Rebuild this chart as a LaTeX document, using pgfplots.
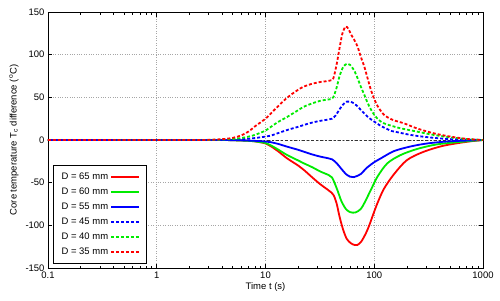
\documentclass[border=0pt]{standalone}
\usepackage{fontspec}
\setmainfont{Liberation Sans}
\usepackage{pgfplots}
\pgfplotsset{compat=1.18}
\definecolor{gpred}{RGB}{255,0,0}
\definecolor{gpgreen}{RGB}{0,235,0}
\definecolor{gpblue}{RGB}{0,0,255}
\begin{document}
\begin{tikzpicture}
\begin{axis}[
  scale only axis, width=435bp, height=256bp,
  xmode=log, xmin=0.1, xmax=1000, ymin=-150, ymax=150,
  xtick={0.1,1,10,100,1000}, xticklabels={0.1,1,10,100,1000},
  ytick={-150,-100,-50,0,50,100,150},
  yticklabels={-150,-100,-50,0,50,100,150},
  font=\fontsize{9.5}{11}\selectfont,
  /pgf/number format/assume math mode=true,
  axis line style={black, line width=0.8pt},
  major tick length=4.5bp, minor tick length=2.5bp,
  every tick/.style={black, line width=0.6pt},
  xmajorgrids, ymajorgrids,
  major grid style={gray!70, dotted, line width=0.6pt},
  xlabel={Time t (s)},
  ylabel={Core temperature T\textsubscript{c} difference (\textsuperscript{o}C)},
  xlabel style={yshift=2bp},
  legend style={at={(rel axis cs:0.012,0.016)}, anchor=south west,
    draw=black, line width=0.8pt, legend cell align=right,
    font=\fontsize{9.5}{11}\selectfont, row sep=0pt,
    inner xsep=6bp, inner ysep=4bp,
    nodes={text height=7bp, text depth=1.5bp, minimum height=15bp, inner ysep=0pt}},
  legend plot pos=right,
  legend image code/.code={\draw[#1, line width=1.8bp] (0bp,0bp) -- (28bp,0bp);},
  every axis plot/.append style={line width=1.8bp, smooth, tension=0.5},
]
\addplot[black!80, dash dot, line width=0.6pt, forget plot, sharp plot] coordinates {(0.1,0) (1000,0)};
% D = 65 mm
\addplot[gpred] coordinates {
(0.1,0)(2,0)(4,0)(5,-0.3)(6,-0.6)(7,-1)(8,-1.6)(10,-4)(11.1,-7)(13,-13)(15.8,-21.5)(20,-30)(22.5,-35)(27,-44)(32,-52)(38,-59)(42,-64)(45,-74)(48,-90)(52,-106)(56,-116)(61,-121)(66,-123)(70,-123)(76,-119)(84,-109)(90,-100)(96,-90)(107,-74)(123,-57)(152,-40)(200,-23.5)(286,-13.7)(437,-6.6)(720,-2)(1000,0)};
\addlegendentry{D = 65 mm}
% D = 60 mm
\addplot[gpgreen] coordinates {
(0.1,0)(2,0)(4,0)(5,-0.3)(6,-0.6)(7,-1)(8,-1.6)(10,-3.5)(11.1,-6)(13,-11)(15.8,-17.6)(20,-24)(22.5,-27.3)(27,-32)(32,-37)(38,-41)(41,-44)(45.6,-58)(50,-72)(55,-81)(60,-84.5)(67,-85)(75,-81)(81,-74)(93,-58.6)(107,-43)(132,-27.3)(175,-17.6)(248,-10.5)(383,-5)(720,-1.5)(1000,0)};
\addlegendentry{D = 60 mm}
% D = 55 mm
\addplot[gpblue] coordinates {
(0.1,0)(2,0)(4,0)(5,-0.2)(6,-0.4)(7,-0.7)(8,-1)(10,-1.8)(11.1,-2.5)(13,-4.5)(15.8,-7.8)(20,-11.5)(22.5,-13.7)(27,-17)(32,-19.5)(38,-21.5)(41,-22.7)(45,-27)(50,-34)(55,-40)(60,-43)(65,-43.5)(70,-42)(75,-40)(86.5,-32)(100,-26)(115,-21.5)(152,-13)(217,-7.5)(309,-4)(500,-1.5)(1000,0)};
\addlegendentry{D = 55 mm}
% D = 45 mm
\addplot[gpblue, densely dashed] coordinates {
(0.1,0)(2,0)(4,0)(5,0.4)(6,0.8)(7,1.5)(8,2.3)(10,4)(11.1,5)(13,8)(15.8,11.7)(20,15.5)(22.5,17.6)(27,20.5)(32,22.5)(38,24)(41,25)(44,28.5)(48,36)(52,42)(56,45)(60,45)(65,43)(70,39.5)(75,35.5)(86.5,27.5)(100,21.5)(107,19)(115,16.5)(141,11)(152,10)(217,5.9)(309,3.3)(500,1)(1000,0)};
\addlegendentry{D = 45 mm}
% D = 40 mm
\addplot[gpgreen, densely dashed] coordinates {
(0.1,0)(2,0)(3,0.1)(4,0.5)(5,1.2)(6,2.3)(7,4)(8,6)(10,11)(11.1,15)(13,21)(15.8,27)(20,35)(22.5,39)(27,43)(32,46)(38,47.5)(40,48)(42,50)(45,61)(48,75)(52,86)(56.6,89.5)(60,88)(65,82)(70,73)(75,63)(81,53)(86.5,44)(93,36)(100,29.5)(110,23.5)(123,19.5)(150,16)(175,13.7)(248,9.8)(354,5.9)(507,3.1)(720,1)(1000,0)};
\addlegendentry{D = 40 mm}
% D = 35 mm
\addplot[gpred, densely dashed] coordinates {
(0.1,0)(2,0)(3,0.2)(4,1)(5,2.5)(6,5.5)(7,10)(8,16)(10,25)(12,35)(15,47)(18,55)(22,62)(27,66)(32,68)(37,69)(40,70)(42,72)(45,88)(48,108)(51,125)(54.6,133)(58,130)(61,124)(65,118)(70,110)(75,98)(81,86)(87,72)(93,59)(100,48)(107,40)(115,34)(123,29.5)(135,26)(152,23)(188,19.5)(248,13.5)(354,7.8)(507,3.9)(720,1.2)(1000,0)};
\addlegendentry{D = 35 mm}
\end{axis}
\pgfresetboundingbox
\path[use as bounding box] ([xshift=-48bp,yshift=-32bp]current axis.south west) rectangle ([xshift=17bp,yshift=12bp]current axis.north east);
\end{tikzpicture}
\end{document}
